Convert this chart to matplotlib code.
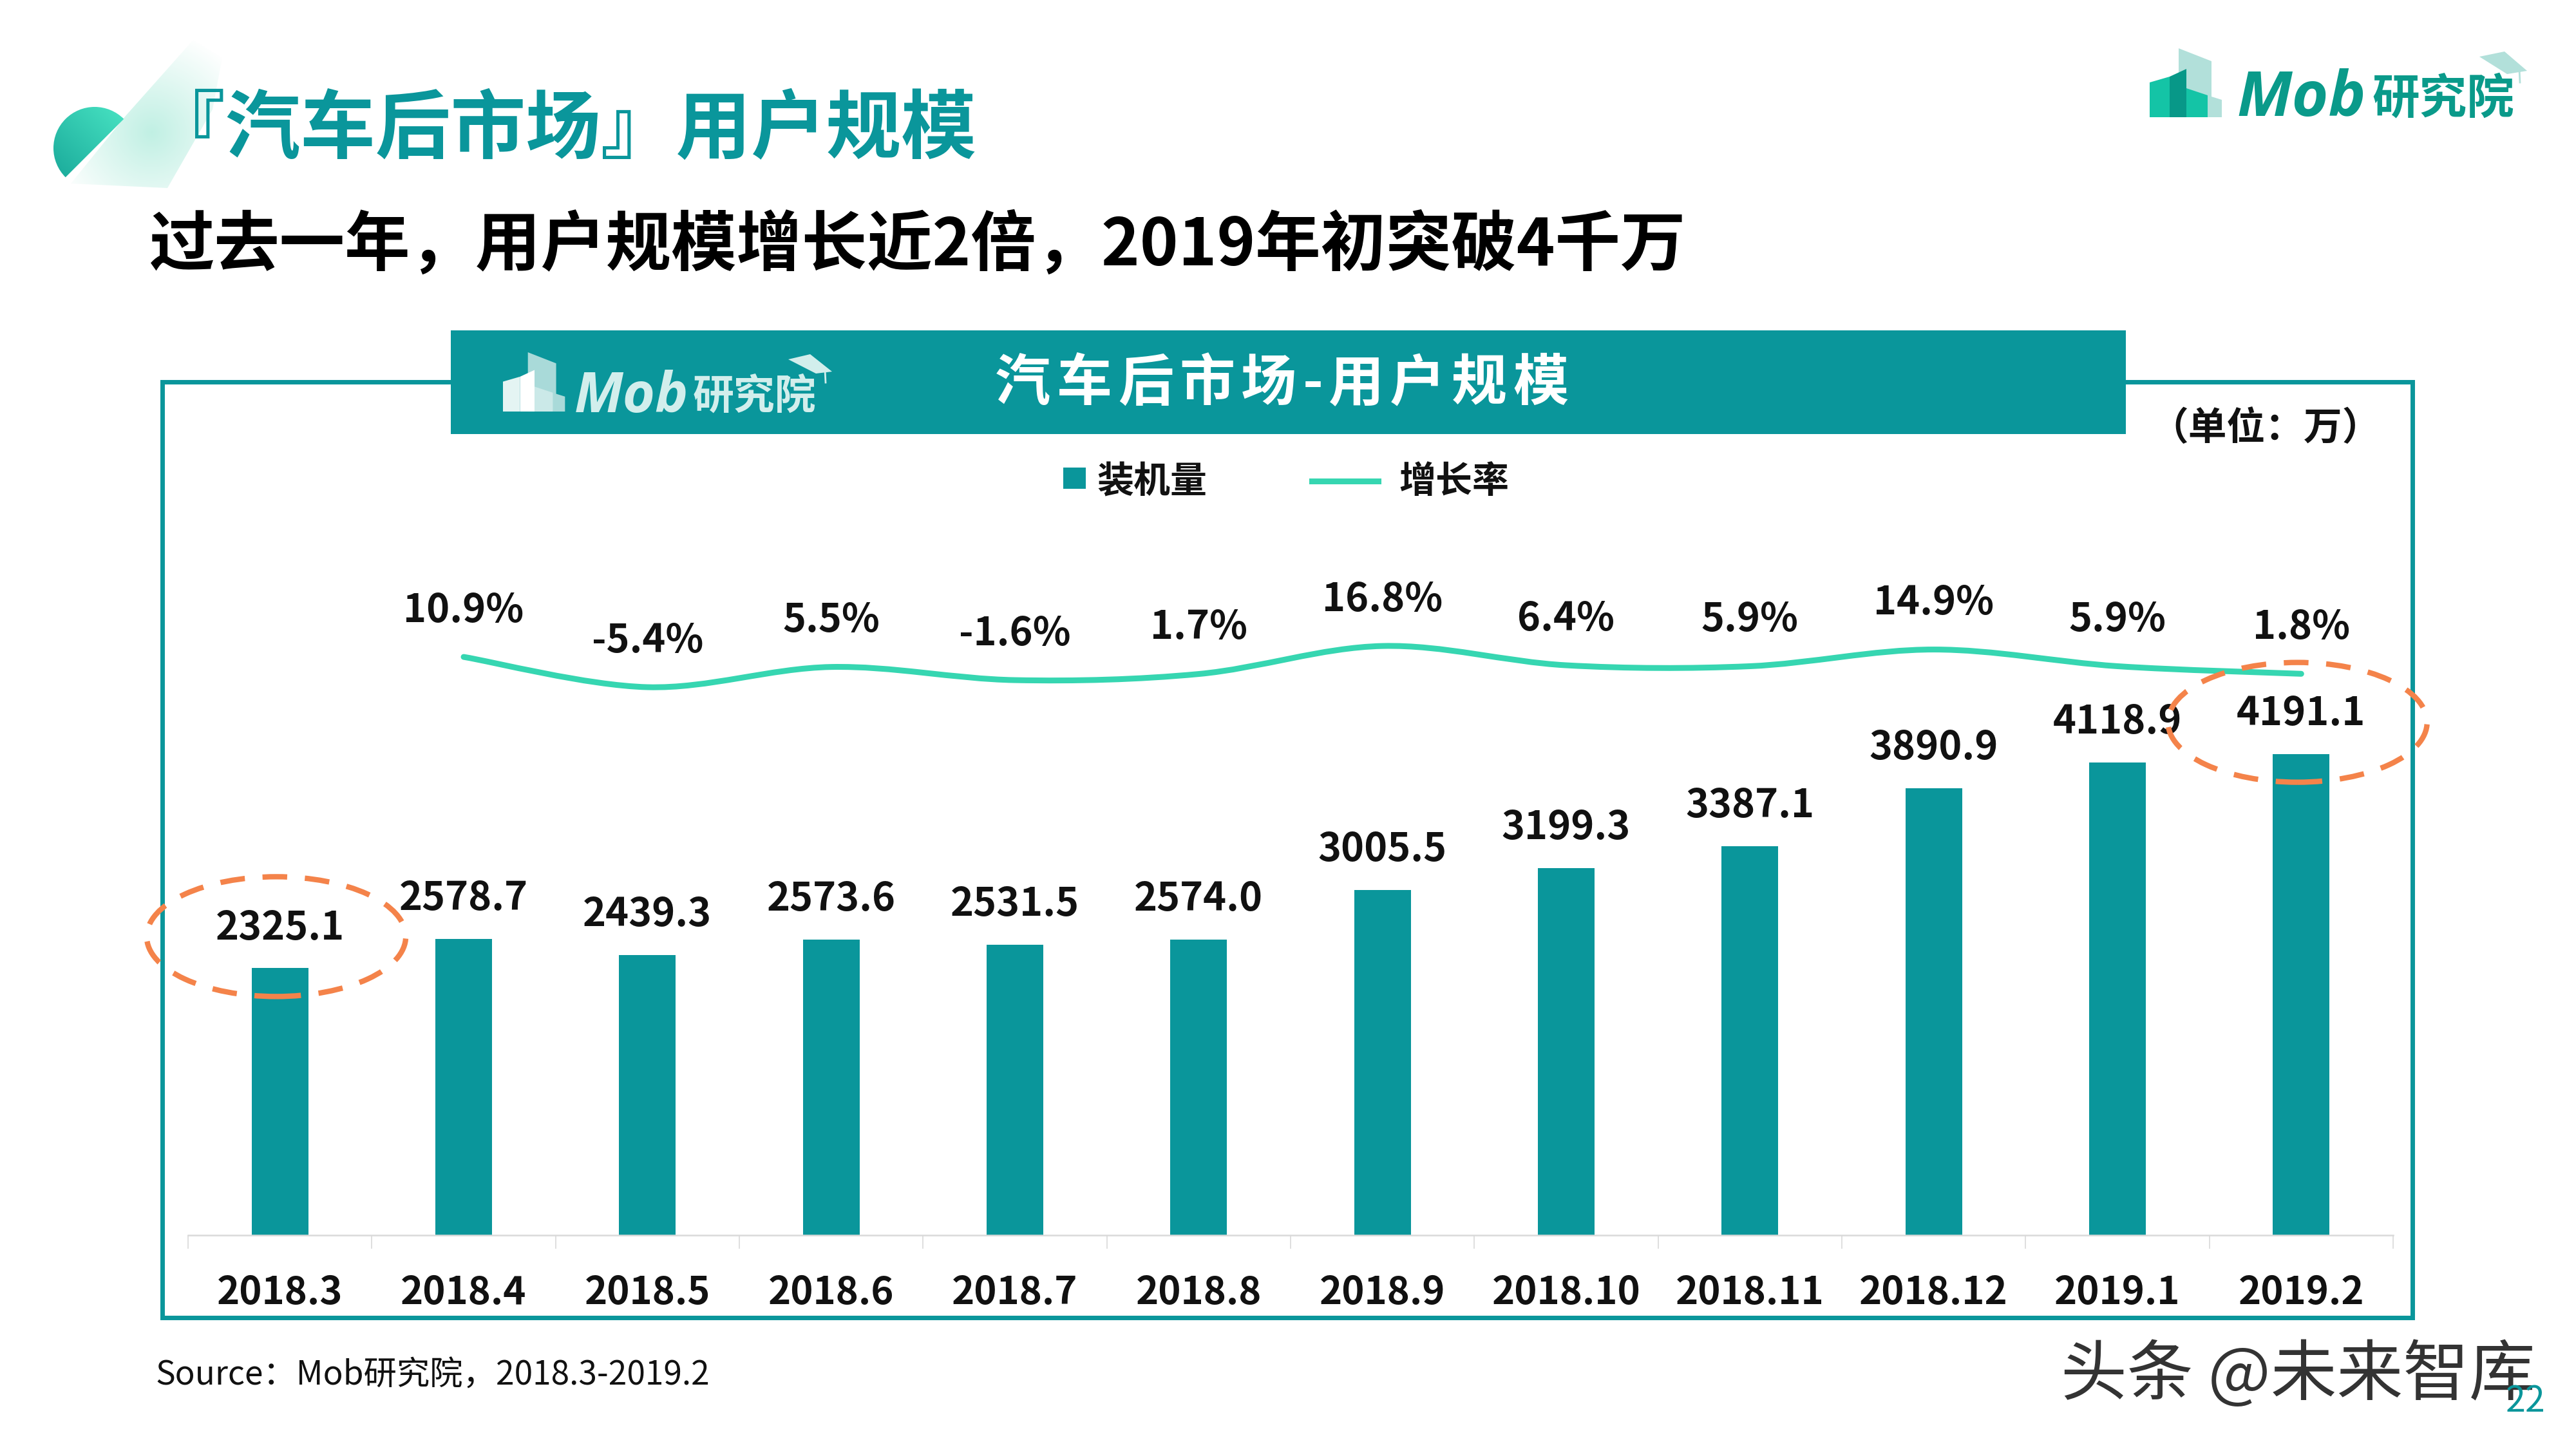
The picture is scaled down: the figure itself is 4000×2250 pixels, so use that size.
import numpy as np
import matplotlib.pyplot as plt
from matplotlib.patches import Rectangle, Ellipse, Wedge, Polygon, PathPatch
from matplotlib.path import Path
from matplotlib.lines import Line2D
from matplotlib.colors import LinearSegmentedColormap, to_rgb

plt.rcParams['font.family'] = ['Noto Sans CJK SC', 'DejaVu Sans']

# data
months = ['2018.3', '2018.4', '2018.5', '2018.6', '2018.7', '2018.8',
          '2018.9', '2018.10', '2018.11', '2018.12', '2019.1', '2019.2']
users = [2325.1, 2578.7, 2439.3, 2573.6, 2531.5, 2574.0,
         3005.5, 3199.3, 3387.1, 3890.9, 4118.9, 4191.1]
growth_months = months[1:]
growth = [10.9, -5.4, 5.5, -1.6, 1.7, 16.8, 6.4, 5.9, 14.9, 5.9, 1.8]
highlight = ['2018.3', '2019.2']

title = '『汽车后市场』用户规模'
subtitle = '过去一年，用户规模增长近2倍，2019年初突破4千万'
chart_title = '汽车后市场-用户规模'
unit = '（单位：万）'
bar_name = '装机量'
line_name = '增长率'
source = 'Source：Mob研究院，2018.3-2019.2'
watermark = '头条 @未来智库'
page_no = '22'

TEAL = '#0A969B'
MINT = '#36D6B1'
ORANGE = '#F4834A'
LOGO = '#0A9A8A'

fig = plt.figure(figsize=(40, 22.5), dpi=100)

# page layer in pixel coordinates
bg = fig.add_axes([0, 0, 1, 1], zorder=0)
bg.axis('off')

# leaf decoration
band = Polygon([(110, 285), (195, 180), (300, 62), (345, 90), (330, 170), (260, 292)],
               closed=True, facecolor='none', edgecolor='none')
bg.add_patch(band)
yy, xx = np.mgrid[40:300, 90:360]
dist = np.hypot(xx - 235, yy - 205)
rgba = np.zeros(xx.shape + (4,))
rgba[..., :3] = to_rgb('#BDEFE2')
rgba[..., 3] = np.clip(1 - dist / 160, 0, 1) * 0.95
im = bg.imshow(rgba, extent=[90, 360, 300, 40], origin='upper', aspect='auto',
               interpolation='bilinear', zorder=1)
im.set_clip_path(band)

leaf = Wedge((147, 230), 64, 135, 315, facecolor='none', edgecolor='none')
bg.add_patch(leaf)
gy, gx = np.mgrid[0:1:100j, 0:1:100j]
grad = (gx + (1 - gy)) / 2
leaf_cmap = LinearSegmentedColormap.from_list('leaf', ['#16A597', '#4CE8C6'])
im2 = bg.imshow(grad, extent=[83, 211, 294, 166], origin='upper', aspect='auto',
                cmap=leaf_cmap, zorder=2)
im2.set_clip_path(leaf)

# titles
bg.text(233, 203, title, fontsize=84, fontweight='heavy', color=TEAL,
        va='center', ha='left', zorder=3)
bg.text(232, 382, subtitle, fontsize=73, fontweight='bold', color='#000000',
        va='center', ha='left')


def draw_icon(x0, y0, s, cols):
    back = [(45, 0), (96, 20), (96, 75), (112, 80), (112, 107), (45, 107)]
    left = [(0, 53), (31, 44), (31, 107), (0, 107)]
    mid = [(31, 44), (57, 32), (57, 107), (31, 107)]
    right = [(57, 62), (90, 73), (90, 107), (57, 107)]
    for pts, c in zip([back, left, mid, right], cols):
        bg.add_patch(Polygon([(x0 + s * px, y0 + s * py) for px, py in pts],
                             closed=True, facecolor=c, edgecolor='none', zorder=5))


def draw_cap(pts, tassel, c):
    bg.add_patch(Polygon(pts, closed=True, facecolor=c, edgecolor='none', zorder=5))
    bg.add_line(Line2D(*zip(*tassel), color=c, lw=2, zorder=5))


# top-right logo
draw_icon(3338, 75, 1.0, ['#B2E0DA', '#14C4A6', '#089888', '#14C4A6'])
bg.text(3473, 180, 'Mob', fontsize=70, fontweight='bold', fontstyle='italic',
        family=['Open Sans', 'DejaVu Sans'], color=LOGO, va='baseline', ha='left')
bg.text(3683, 175, '研究院', fontsize=53, fontweight='bold', color=LOGO,
        va='baseline', ha='left')
draw_cap([(3850, 88), (3889, 80), (3924, 110), (3893, 115)],
         [(3912, 108), (3913, 128)], '#B2E0DA')

# chart frame and header
bg.add_patch(Rectangle((252, 593), 3494, 1453, facecolor='none', edgecolor=TEAL,
                       lw=5, zorder=3))
bg.add_patch(Rectangle((700, 513), 2601, 161, facecolor=TEAL, edgecolor='none', zorder=4))
draw_icon(781, 547, 0.86, ['#A9DAD9', '#E4F4F3', '#FFFFFF', '#CBE9E8'])
bg.text(892, 640, 'Mob', fontsize=62, fontweight='bold', fontstyle='italic',
        family=['Open Sans', 'DejaVu Sans'], color='#D2EEEC', va='baseline', ha='left', zorder=5)
bg.text(1076, 635, '研究院', fontsize=46, fontweight='bold', color='#D2EEEC',
        va='baseline', ha='left', zorder=5)
draw_cap([(1224, 558), (1258, 550), (1292, 577), (1267, 580)],
         [(1281, 574), (1282, 594)], '#D2EEEC')

hx = 1545
for ch in chart_title:
    bg.text(hx, 596, ch, fontsize=62, fontweight='bold', color='white',
            va='center', ha='left', zorder=5)
    hx += 40 if ch == '-' else 95.5

bg.text(3338, 666, unit, fontsize=43, fontweight='bold', color='#111111',
        va='center', ha='left')

# legend
bg.add_patch(Rectangle((1651, 726), 35, 33, facecolor=TEAL, edgecolor='none'))
bg.text(1703, 748, bar_name, fontsize=41, fontweight='bold', color='#111111',
        va='center', ha='left')
bg.add_line(Line2D([2037, 2140], [747, 747], color=MINT, lw=6.5))
bg.text(2172, 748, line_name, fontsize=41, fontweight='bold', color='#111111',
        va='center', ha='left')

# footer
bg.text(242, 2136, source, fontsize=37, color='#111111', va='center', ha='left')
bg.text(3200, 2136, watermark, fontsize=74, color='#333333', va='center', ha='left')
bg.text(3922, 2176, page_no, fontsize=40, color=TEAL, va='center', ha='center')

bg.set_xlim(0, 4000)
bg.set_ylim(2250, 0)

# chart
ax = fig.add_axes([292 / 4000, 332 / 2250, 3424 / 4000, 1018 / 2250], zorder=2)
ax.patch.set_alpha(0)
x = np.arange(len(months))
ax.bar(x, users, width=0.308, color=TEAL, zorder=2)
for xi, v in zip(x, users):
    ax.annotate(f'{v:.1f}', (xi, v), xytext=(0, 45), textcoords='offset points',
                ha='center', va='center', fontsize=44, fontweight='bold', color='#111111')
ax.set_xlim(-0.5, len(months) - 0.5)
ax.set_ylim(0, 5709)
for s in ['left', 'right', 'top']:
    ax.spines[s].set_visible(False)
ax.spines['bottom'].set_color('#D9D9D9')
ax.spines['bottom'].set_linewidth(1.8)
ax.set_yticks([])
ax.set_xticks(np.arange(-0.5, len(months), 1))
ax.set_xticklabels([])
ax.tick_params(axis='x', which='major', length=15, width=1.2, color='#D9D9D9')
ax.set_xticks(x, labels=months, minor=True)
ax.tick_params(axis='x', which='minor', length=0, pad=43, labelsize=43)
for lab in ax.get_xticklabels(minor=True):
    lab.set_fontweight('bold')
    lab.set_color('#111111')

ax2 = ax.twinx()
ax2.set_zorder(3)
ax2.patch.set_alpha(0)
ax2.axis('off')
gx_pos = np.array([months.index(m) for m in growth_months], dtype=float)
pts = np.column_stack([gx_pos, growth])
ext = np.vstack([pts[0], pts, pts[-1]])
verts = [tuple(pts[0])]
codes = [Path.MOVETO]
for i in range(1, len(ext) - 2):
    p0, p1, p2, p3 = ext[i - 1], ext[i], ext[i + 1], ext[i + 2]
    c1 = p1 + (p2 - p0) / 6
    c2 = p2 - (p3 - p1) / 6
    verts += [tuple(c1), tuple(c2), tuple(p2)]
    codes += [Path.CURVE4] * 3
ax2.add_patch(PathPatch(Path(verts, codes), facecolor='none', edgecolor=MINT,
                        lw=6.5, capstyle='round', zorder=3))
for xi, g in zip(gx_pos, growth):
    ax2.annotate(f'{g:.1f}%', (xi, g), xytext=(0, 52), textcoords='offset points',
                 ha='center', va='center', fontsize=44, fontweight='bold', color='#111111')

for m in highlight:
    i = months.index(m)
    ax2.add_patch(Ellipse((i - 0.02, users[i] + 275), 1.41, 1043, transform=ax.transData,
                          facecolor='none', edgecolor=ORANGE, lw=6,
                          linestyle=(0, (4.6, 3.3)), clip_on=False, zorder=6))
ax2.set_xlim(-0.5, len(months) - 0.5)
ax2.set_ylim(-300.9, 52.6)

fig.savefig('out.png', dpi=100)
